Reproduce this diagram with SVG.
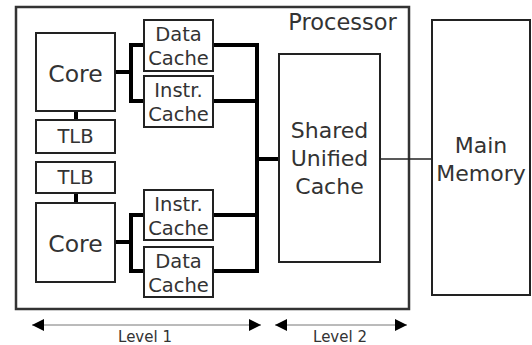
<svg xmlns="http://www.w3.org/2000/svg" width="532" height="345" viewBox="0 0 532 345">
<style>
.box{fill:#fff;stroke:#222;stroke-width:2}
.t{font-family:"DejaVu Sans",sans-serif;fill:#333;text-anchor:middle}
.bus{fill:none;stroke:#000;stroke-width:4;stroke-linejoin:miter}
.thin{fill:none;stroke:#222;stroke-width:1.5}
.lvl{stroke:#777;stroke-width:1}
</style>
<defs>
<marker id="ah" viewBox="0 0 12 12" refX="12" refY="6" markerWidth="12" markerHeight="12" markerUnits="userSpaceOnUse" orient="auto-start-reverse">
<path d="M0,0 L12,6 L0,12 z" fill="#000"/>
</marker>
</defs>
<rect width="532" height="345" fill="#fff"/>
<g id="processor">
<rect x="16" y="7" width="393" height="302" fill="#fff" stroke="#333" stroke-width="2.5"/>
<text class="t" x="342.5" y="30" font-size="22.5">Processor</text>
</g>
<g id="connectors">
<path class="bus" d="M115,72 H131 M144,45 H131 V101 H144"/>
<path class="bus" d="M115,242 H131 M144,215 H131 V271 H144"/>
<path class="bus" d="M213,45 H257 V271 H213 M213,101 H257 M213,215 H257 M257,159 H279"/>
<path class="bus" d="M76,111 V120 M76,193 V203"/>
<path class="thin" d="M380,159 H432"/>
</g>
<g id="core1"><rect class="box" x="36" y="33" width="79" height="78"/><text class="t" x="75.5" y="82" font-size="23.5">Core</text></g>
<g id="tlb1"><rect class="box" x="36" y="120" width="79" height="33"/><text class="t" x="75.5" y="143" font-size="19.5">TLB</text></g>
<g id="tlb2"><rect class="box" x="36" y="162" width="79" height="31"/><text class="t" x="75.5" y="184" font-size="19.5">TLB</text></g>
<g id="core2"><rect class="box" x="36" y="203" width="79" height="79"/><text class="t" x="75.5" y="252" font-size="23.5">Core</text></g>
<g id="dcache1"><rect class="box" x="144" y="20" width="69" height="51"/><text class="t" x="178.5" y="41" font-size="19.5">Data</text><text class="t" x="178.5" y="65" font-size="19.5">Cache</text></g>
<g id="icache1"><rect class="box" x="144" y="76" width="69" height="51"/><text class="t" x="178.5" y="97" font-size="19.5">Instr.</text><text class="t" x="178.5" y="121" font-size="19.5">Cache</text></g>
<g id="icache2"><rect class="box" x="144" y="190" width="69" height="50"/><text class="t" x="178.5" y="211" font-size="19.5">Instr.</text><text class="t" x="178.5" y="235" font-size="19.5">Cache</text></g>
<g id="dcache2"><rect class="box" x="144" y="247" width="69" height="50"/><text class="t" x="178.5" y="268" font-size="19.5">Data</text><text class="t" x="178.5" y="292" font-size="19.5">Cache</text></g>
<g id="l2"><rect class="box" x="279" y="54" width="101" height="208"/>
<text class="t" x="329.5" y="138" font-size="22">Shared</text><text class="t" x="329.5" y="166" font-size="22">Unified</text><text class="t" x="329.5" y="194" font-size="22">Cache</text></g>
<g id="memory"><rect class="box" x="432" y="20" width="98" height="275"/>
<text class="t" x="481" y="153" font-size="22">Main</text><text class="t" x="481" y="181" font-size="22">Memory</text></g>
<g id="levels">
<line class="lvl" x1="32" y1="325" x2="261" y2="325" marker-start="url(#ah)" marker-end="url(#ah)"/>
<line class="lvl" x1="275" y1="325" x2="407" y2="325" marker-start="url(#ah)" marker-end="url(#ah)"/>
<text class="t" x="145" y="342" font-size="15">Level 1</text>
<text class="t" x="340" y="342" font-size="15">Level 2</text>
</g>
</svg>
